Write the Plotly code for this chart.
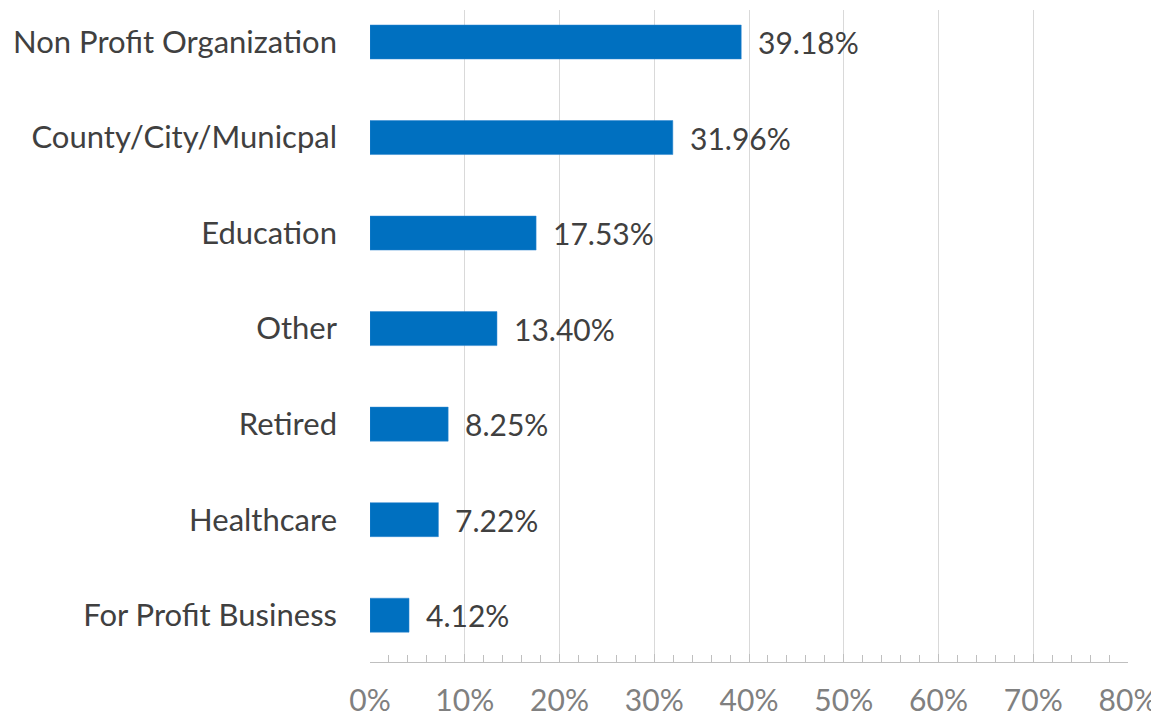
import plotly.graph_objects as go

categories = ["For Profit Business", "Healthcare", "Retired", "Other",
              "Education", "County/City/Municpal", "Non Profit Organization"]
values = [4.12, 7.22, 8.25, 13.40, 17.53, 31.96, 39.18]
x_ticks = [0, 10, 20, 30, 40, 50, 60, 70, 80]
x_tick_labels = [f"{t}%" for t in x_ticks]

FONT = "Lato"
fig = go.Figure()
fig.add_trace(go.Bar(
    x=values, y=categories, orientation="h",
    marker=dict(color="#0070C0", line=dict(color="#2E86D0", width=0.5)),
    width=0.356, hoverinfo="skip",
))
for c, v in zip(categories, values):
    fig.add_annotation(x=v, y=c, text=f"{v:.2f}%", showarrow=False,
                       xanchor="left", yanchor="middle", xshift=15,
                       font=dict(family=FONT, size=30, color="#404040"))

# page body has an 8px default margin; size the figure to fit the window
fig.update_layout(
    width=1151, height=709,
    margin=dict(l=362, r=31, t=2, b=55),
    plot_bgcolor="white", paper_bgcolor="white",
    showlegend=False,
    font=dict(family=FONT),
)
fig.update_xaxes(
    range=[0, 80], tickvals=x_ticks, ticktext=x_tick_labels,
    showgrid=True, gridcolor="#D9D9D9", gridwidth=1,
    showline=True, linecolor="#BFBFBF", linewidth=1,
    ticks="inside", ticklen=8, tickcolor="#BFBFBF",
    minor=dict(dtick=2, ticks="inside", ticklen=7, tickcolor="#BFBFBF", showgrid=False),
    tickfont=dict(family=FONT, size=30, color="#808080"),
    ticklabelstandoff=12, zeroline=False, automargin=False,
)
fig.update_yaxes(
    categoryorder="array", categoryarray=categories,
    range=[-0.49, 6.335],
    showgrid=False, showline=False, zeroline=False,
    tickfont=dict(family=FONT, size=31, color="#404040"),
    ticklabelstandoff=32, automargin=False,
)
fig.write_html("out.html")
